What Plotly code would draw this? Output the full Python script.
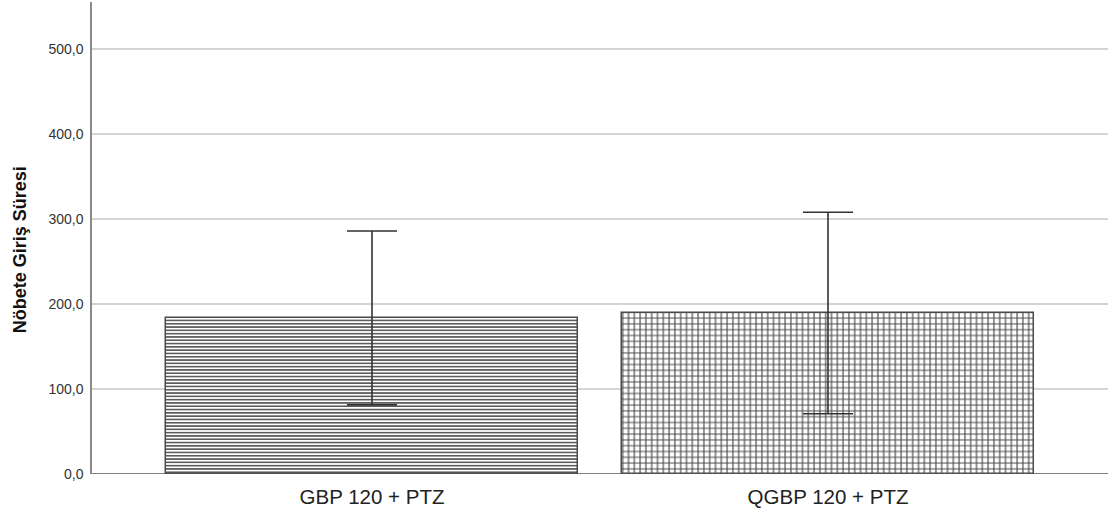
import plotly.graph_objects as go

categories = ["GBP 120 + PTZ", "QGBP 120 + PTZ"]
means = [183.5, 189.3]
errors = [102.2, 118.5]
patterns = ["-", "+"]
y_ticks = [0, 100, 200, 300, 400, 500]

fig = go.Figure()
fig.add_trace(go.Bar(
    x=[0, 1],
    y=means,
    width=0.904,
    marker=dict(
        color="white",
        line=dict(color="#4a4a4a", width=1.5),
        pattern=dict(shape=patterns, fgcolor="#4a4a4a", bgcolor="white",
                     fgopacity=1, size=[3.3, 5.8], solidity=[0.45, 0.36],
                     fillmode="replace"),
    ),
    error_y=dict(type="data", array=errors, visible=True,
                 color="#333333", thickness=1.6, width=25),
    showlegend=False,
))

fig.update_layout(
    width=1112, height=512,
    margin=dict(l=92, r=4, t=2, b=38),
    paper_bgcolor="white", plot_bgcolor="white",
    separators=", ",
    font=dict(family="Liberation Sans, Arial, sans-serif", color="#222222"),
    xaxis=dict(
        tickmode="array", tickvals=[0, 1], ticktext=categories,
        range=[-0.614, 1.614], showgrid=False, zeroline=False,
        showline=False, ticks="", ticklabelstandoff=8,
        tickfont=dict(size=20.5, color="#222222"),
    ),
    yaxis=dict(
        range=[0, 555], tickmode="array", tickvals=y_ticks,
        tickformat=".1f", showgrid=True, gridcolor="#d4d4d4", gridwidth=1.5,
        zeroline=False, showline=True, linecolor="#8a8a8a", linewidth=1.5,
        ticks="", ticklabelstandoff=4, tickfont=dict(size=14, color="#333333"),
    ),
    bargap=0,
)
fig.add_shape(type="line", xref="paper", yref="y", x0=0, x1=1, y0=0, y1=0,
              line=dict(color="#555555", width=1.5))
fig.add_annotation(
    text="<b>Nöbete Giriş Süresi</b>", textangle=-90,
    xref="paper", yref="y", x=0, y=263, xanchor="center", yanchor="middle",
    xshift=-72, showarrow=False, font=dict(size=18, color="#111111"),
)

fig.write_html("out.html", config={"displayModeBar": False},
               post_script="document.body.style.margin='0';")
